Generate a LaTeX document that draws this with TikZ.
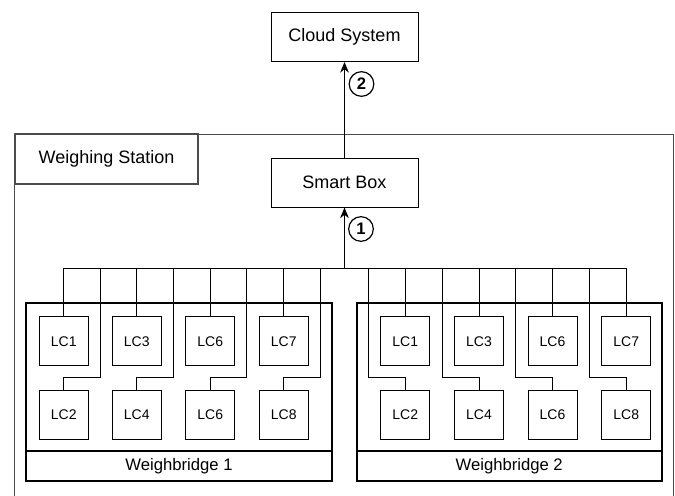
\documentclass[tikz,border=0pt]{standalone}
\usepackage{fontspec}
\setmainfont{Liberation Sans}
\usetikzlibrary{arrows.meta,calc}
\begin{document}
\begin{tikzpicture}[x=0.75pt,y=-0.75pt,
  line width=0.75pt,
  box/.style={draw,rectangle,minimum width=110.25pt,minimum height=36.75pt,inner sep=0pt,font=\fontsize{13.5}{15}\selectfont},
  lcbox/.style={draw,rectangle,minimum width=36.75pt,minimum height=36.75pt,inner sep=0pt,font=\fontsize{10.5}{12}\selectfont},
  wb/.style={draw,line width=1.6pt},
  num/.style={draw,circle,minimum size=18.5pt,inner sep=0pt,line width=0.9pt,font=\fontsize{12.5}{13}\selectfont\bfseries},
  conn/.style={line width=0.75pt},
  arr/.style={conn,-{Stealth[length=8pt,width=6.5pt]}}]
\useasboundingbox (0,0) rectangle (675,496);
\begin{scope}
\clip (0,0) rectangle (675,496);
\draw[black!70,line width=0.9pt] (14.7,134.3) rectangle (673.3,520);
\end{scope}
% Weighing station label
\node[draw,black!70,line width=0.9pt,rectangle,minimum width=137.25pt,minimum height=37.5pt,inner sep=0pt,text=black,font=\fontsize{13.5}{15}\selectfont] (ws) at (106.5,159) {Weighing Station};
% main boxes
\node[box] (cloud) at (344.5,37) {Cloud System};
\node[box] (smart) at (344.5,182.5) {Smart Box};
% weighbridges
\draw[wb] (26,303.3) rectangle (332,481);
\draw[wb] (26,451) -- (332,451);
\node[font=\fontsize{12.5}{14}\selectfont] (wb1) at (179,466) {Weighbridge 1};
\draw[wb] (356.7,303.3) rectangle (661.7,481);
\draw[wb] (356.7,451) -- (661.7,451);
\node[font=\fontsize{12.5}{14}\selectfont] (wb2) at (509.2,466) {Weighbridge 2};
% load cells WB1
\node[lcbox] (a1) at (63.7,341.3) {LC1};
\node[lcbox] (a2) at (63.7,414.5) {LC2};
\node[lcbox] (a3) at (136.8,341.3) {LC3};
\node[lcbox] (a4) at (136.8,414.5) {LC4};
\node[lcbox] (a5) at (210.2,341.3) {LC6};
\node[lcbox] (a6) at (210.2,414.5) {LC6};
\node[lcbox] (a7) at (283.7,341.3) {LC7};
\node[lcbox] (a8) at (283.7,414.5) {LC8};
% load cells WB2
\node[lcbox] (b1) at (405.3,341.3) {LC1};
\node[lcbox] (b2) at (405.3,414.5) {LC2};
\node[lcbox] (b3) at (479,341.3) {LC3};
\node[lcbox] (b4) at (479,414.5) {LC4};
\node[lcbox] (b5) at (552.5,341.3) {LC6};
\node[lcbox] (b6) at (552.5,414.5) {LC6};
\node[lcbox] (b7) at (626.2,341.3) {LC7};
\node[lcbox] (b8) at (626.2,414.5) {LC8};
% bus
\coordinate (bus) at (0,268);
\draw[conn] (a1.north |- bus) -- (b7.north |- bus);
% WB1 drops
\foreach \u/\l in {a1/a2,a3/a4,a5/a6,a7/a8}{
  \draw[conn] (\u.north) -- (\u.north |- bus);
  \draw[conn] (\l.north) -- ++(0,-12.3) -| ($(\l.north |- bus)+(36.5,0)$);
}
% WB2 drops
\foreach \u/\l in {b1/b2,b3/b4,b5/b6,b7/b8}{
  \draw[conn] (\u.north) -- (\u.north |- bus);
  \draw[conn] (\l.north) -- ++(0,-12.3) -| ($(\l.north |- bus)+(-37,0)$);
}
% trunk arrows
\draw[arr] (smart.south |- bus) -- (smart.south);
\draw[arr] (smart.north) -- (cloud.south);
\node[num] (n1) at (361,229) {1};
\node[num] (n2) at (361.5,84) {2};
\end{tikzpicture}
\end{document}
